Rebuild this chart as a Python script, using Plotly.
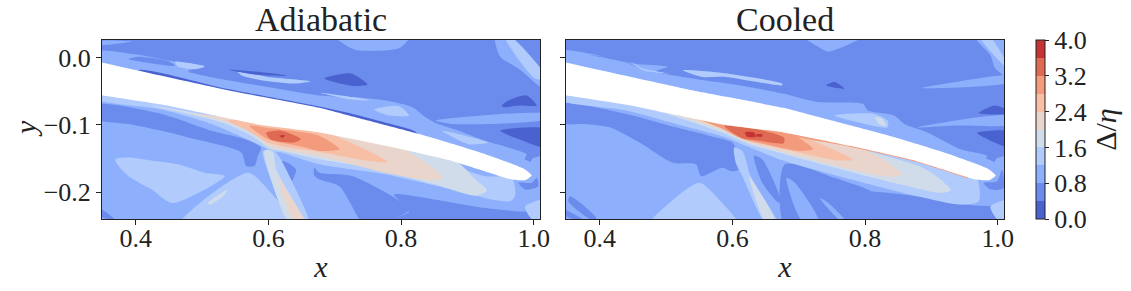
import plotly.graph_objects as go

panel_titles = ["Adiabatic", "Cooled"]
x_ticks = [0.4, 0.6, 0.8, 1.0]
y_ticks = [0.0, -0.1, -0.2]
y_tick_labels = ["0.0", "\u22120.1", "\u22120.2"]
bar_ticks = [0.0, 0.8, 1.6, 2.4, 3.2, 4.0]
band_colors = ["#4a62cf", "#6b8cec", "#8eb0fc", "#b0cbfc", "#d1dcea",
               "#e9d5cb", "#f6bfa6", "#f39b7c", "#df6a53", "#c53334"]
background_band = 1

airfoil = [(.33, -.0035), (.35, -.0075), (.439, -.027), (.539, -.0485), (.6765, -.0745), (.727, -.0875),
           (.777, -.1005), (.827, -.1135), (.877, -.128), (.927, -.1435), (.965, -.157), (.987, -.166), (.997, -.175),
           (.987, -.182), (.967, -.181), (.927, -.169), (.877, -.1535), (.777, -.131), (.677, -.111), (.589, -.1),
           (.539, -.09), (.439, -.0695), (.35, -.056), (.33, -.053)]

base2 = [(.34, -.05), (1.02, -.17), (1.02, -.25), (.34, -.25)]
tail2 = [(.997, -.151), (1.02, -.146), (1.02, -.18), (1.0, -.181)]

# Adiabatic, regions of constant band
a_wedge1 = [(.34, -.07), (.439, -.0835), (.514, -.1085), (.564, -.121), (.589, -.1335), (.584, -.146), (.579, -.161),
            (.5665, -.161), (.559, -.141), (.489, -.121), (.439, -.1085), (.389, -.0985), (.34, -.091)]
a_low1 = [(.669, -.1635), (.677, -.171), (.727, -.176), (.812, -.226), (.757, -.25), (.7445, -.25), (.707, -.191),
          (.677, -.181), (.669, -.175)]
a_bot1 = [(.7895, -.2035), (.852, -.211), (.927, -.2235), (.977, -.2285), (1.02, -.231), (1.02, -.25), (.757, -.25),
          (.812, -.2285)]
a_stemwedge1 = [(.6215, -.1535), (.6415, -.166), (.6315, -.1885), (.6215, -.1735)]
a_corner1 = [(.34, -.221), (.369, -.241), (.359, -.241), (.34, -.231)]
a_tail1 = [(.977, -.186), (.997, -.186), (1.0045, -.1785), (1.007, -.191), (.987, -.196)]
a_corner3 = [(.987, -.221), (1.02, -.211), (1.02, -.25), (.997, -.24)]
a_tri3 = [(.464, -.25), (.569, -.171), (.604, -.201), (.64, -.25)]
a_blob3 = [(.369, -.151), (.394, -.1485), (.429, -.1535), (.464, -.1585), (.504, -.171), (.534, -.176), (.494, -.201),
           (.454, -.216), (.424, -.196), (.389, -.176), (.374, -.161)]
a_tri4 = [(.509, -.216), (.539, -.196), (.5315, -.206), (.5115, -.2185)]
a_stem3 = [(.5915, -.1385), (.609, -.1385), (.639, -.191), (.662, -.25), (.634, -.25), (.604, -.181)]
a_stem4 = [(.594, -.1385), (.6065, -.1385), (.6115, -.166), (.656, -.25), (.634, -.25), (.599, -.166)]
a_stem5 = [(.6115, -.171), (.6215, -.1885), (.658, -.25), (.642, -.25)]
a_env3 = [(.34, -.054), (.439, -.0685), (.539, -.0885), (.677, -.108), (.827, -.1435), (.927, -.176), (.967, -.178),
          (.972, -.205), (.965, -.213), (.942, -.212), (.877, -.196), (.777, -.1735), (.677, -.1585), (.619, -.141),
          (.604, -.1385), (.584, -.1285), (.514, -.0985), (.439, -.077), (.34, -.062)]
a_env4 = [(.424, -.071), (.514, -.086), (.677, -.108), (.882, -.1535), (.912, -.181), (.9295, -.197), (.912, -.205),
          (.852, -.1885), (.752, -.1635), (.677, -.151), (.619, -.1385), (.604, -.136), (.574, -.116), (.529, -.096)]
a_env5 = [(.489, -.0835), (.677, -.108), (.802, -.135), (.863, -.1785), (.842, -.182), (.777, -.171), (.677, -.146),
          (.624, -.137), (.604, -.1335), (.574, -.111), (.539, -.096), (.499, -.086)]
a_env6 = [(.539, -.0935), (.677, -.108), (.7795, -.155), (.752, -.1535), (.677, -.14), (.624, -.132), (.599, -.126),
          (.569, -.1085)]
a_env7 = [(.5715, -.101), (.604, -.105), (.6765, -.116), (.707, -.136), (.677, -.1385), (.649, -.132), (.599, -.121)]
a_env8 = [(.5965, -.112), (.619, -.1085), (.649, -.121), (.639, -.126), (.604, -.122)]
a_env9 = [(.6165, -.116), (.625, -.115), (.6215, -.119)]
a_up2 = [(.34, .009), (.399, .005), (.459, -.006), (.504, -.012), (.479, -.02), (.539, -.0335), (.599, -.0435),
         (.6765, -.056), (.727, -.0585), (.777, -.0635), (.817, -.0735), (.837, -.0885), (.852, -.097), (.887, -.1085),
         (.927, -.1235), (.9895, -.1435), (.987, -.1485), (.98, -.17), (.8, -.12), (.5, -.06), (.34, -.02)]
a_up1 = [(.404, .0015), (.449, -.005), (.459, -.012), (.424, -.0085), (.389, -.002)]
a_up3 = [(.459, -.006), (.504, -.0135), (.489, -.017), (.464, -.0135)]
a_corner2 = [(.34, .024), (.394, .024), (.34, .019)]
a_streak3 = [(.554, -.021), (.599, -.0285), (.664, -.035), (.639, -.0385), (.589, -.0335), (.559, -.026)]
a_streak0 = [(.539, -.0175), (.609, -.0235), (.629, -.027), (.579, -.025)]
a_top2 = [(.702, .03), (.812, .03), (.797, .014), (.732, .0115), (.712, .0215)]
a_topr2 = [(.942, .03), (.962, .03), (1.02, -.04), (1.02, -.05), (.977, -.016), (.9495, .0015)]
a_topr3 = [(.957, .03), (.967, .03), (1.02, -.031), (1.002, -.031)]
a_spot0 = [(.6845, -.031), (.7245, -.0235), (.7495, -.04), (.727, -.042)]
a_right0a = [(.952, -.071), (.962, -.0635), (.9895, -.056), (1.0045, -.071), (.977, -.071), (.9545, -.0735)]
a_right0b = [(.9495, -.1085), (1.02, -.106), (1.02, -.1335), (.977, -.121)]
a_right2 = [(.852, -.0935), (1.02, -.0835), (1.02, -.091), (.877, -.0985)]
a_lens3 = [(.862, -.1085), (.932, -.126), (.902, -.1285)]
a_patch3 = [(.7595, -.077), (.797, -.072), (.812, -.086), (.782, -.086)]
a_thin3 = [(.677, -.052), (.727, -.0585), (.752, -.0635), (.727, -.0625)]
a_patch4 = [(.8, -.0785), (.811, -.086), (.8045, -.082)]
a_up0 = [(.404, -.0185), (.539, -.0465), (.6765, -.0725), (.727, -.0835), (.777, -.0965), (.822, -.11), (.827, -.12),
         (.677, -.08), (.404, -.03)]

# Cooled, regions of constant band
c_wedge1 = [(.34, -.0685), (.44, -.0835), (.515, -.1035), (.565, -.116), (.6, -.126), (.605, -.136), (.61, -.166),
            (.5975, -.1685), (.585, -.1635), (.5525, -.176), (.545, -.1585), (.51, -.156), (.46, -.126), (.415, -.1035),
            (.3775, -.0985), (.34, -.097)]
c_stripe1a = [(.355, -.206), (.395, -.2385), (.3875, -.241), (.3525, -.2135)]
c_stripe1b = [(.34, -.2235), (.375, -.241), (.365, -.241), (.34, -.231)]
c_hill3 = [(.4725, -.25), (.505, -.216), (.55, -.186), (.58, -.211), (.61, -.25)]
c_wedge2 = [(.6325, -.146), (.645, -.151), (.6725, -.211), (.67, -.216), (.645, -.186)]
c_low1 = [(.679, -.1585), (.754, -.1785), (.809, -.1985), (.734, -.1935), (.789, -.25), (.679, -.25)]
c_bot1 = [(.734, -.1935), (.809, -.1985), (.879, -.206), (.954, -.2185), (1.02, -.226), (1.02, -.25), (.769, -.25)]
c_finger2a = [(.6815, -.1785), (.694, -.186), (.729, -.241), (.704, -.241)]
c_finger2b = [(.7315, -.2085), (.7415, -.2135), (.769, -.241), (.7615, -.241)]
c_tail1 = [(.979, -.186), (.999, -.1835), (1.0065, -.166), (1.009, -.1935), (.989, -.196)]
c_corner3 = [(.989, -.221), (1.02, -.211), (1.02, -.25), (.999, -.24)]
c_stem3 = [(.6025, -.1335), (.615, -.1385), (.6275, -.176), (.67, -.25), (.6525, -.25), (.615, -.176), (.605, -.156)]
c_stem4 = [(.625, -.176), (.6325, -.186), (.6675, -.25), (.6525, -.25)]
c_env3 = [(.34, -.054), (.44, -.0685), (.54, -.0885), (.679, -.108), (.829, -.1385), (.949, -.175), (.969, -.18),
          (.9715, -.2135), (.944, -.2185), (.879, -.206), (.779, -.181), (.679, -.1535), (.62, -.131), (.59, -.1185),
          (.515, -.0985), (.44, -.0785), (.34, -.0635)]
c_env4 = [(.4, -.0635), (.515, -.081), (.679, -.108), (.8865, -.1635), (.914, -.181), (.929, -.197), (.914, -.201),
          (.854, -.1885), (.754, -.1635), (.679, -.1435), (.625, -.1285), (.59, -.1135), (.54, -.096), (.465, -.0735)]
c_env5 = [(.435, -.0685), (.679, -.108), (.804, -.1385), (.8565, -.1735), (.839, -.177), (.779, -.166), (.679, -.141),
          (.625, -.126), (.58, -.106), (.51, -.0835)]
c_env6 = [(.51, -.0835), (.679, -.108), (.7815, -.152), (.754, -.152), (.679, -.136), (.625, -.1235), (.58, -.1035),
          (.545, -.091)]
c_env7 = [(.55, -.091), (.679, -.108), (.7215, -.136), (.699, -.1385), (.679, -.135), (.65, -.1285), (.615, -.121),
          (.58, -.1035)]
c_env8 = [(.5875, -.101), (.63, -.105), (.6775, -.1185), (.6775, -.127), (.64, -.1235), (.6125, -.1185)]
c_env9a = [(.619, -.111), (.6325, -.111), (.635, -.1175), (.6225, -.1175)]
c_env9b = [(.636, -.114), (.645, -.114), (.645, -.117), (.636, -.117)]
c_edge7 = [(.679, -.1095), (.777, -.1295), (.877, -.152), (.927, -.1675), (.955, -.1765), (.955, -.1785),
           (.927, -.1702), (.877, -.1547), (.777, -.1322), (.679, -.1125)]
c_up2 = [(.34, .01), (.39, .005), (.45, -.0085), (.5025, -.0135), (.485, -.02), (.54, -.031), (.61, -.041),
         (.6775, -.0535), (.729, -.066), (.7965, -.0685), (.804, -.0785), (.844, -.086), (.859, -.0985), (.894, -.111),
         (.944, -.136), (.984, -.146), (.979, -.1535), (.98, -.17), (.8, -.12), (.5, -.06), (.34, -.02)]
c_streak3 = [(.525, -.0185), (.58, -.022), (.675, -.0385), (.675, -.041), (.59, -.0285), (.555, -.0285)]
c_up1 = [(.385, .004), (.425, -.001), (.455, -.0135), (.435, -.006)]
c_up3 = [(.4475, -.006), (.465, -.016), (.505, -.0235), (.465, -.0185)]
c_top2 = [(.709, .03), (.794, .03), (.744, .009), (.729, .0165)]
c_topr2 = [(.9665, .03), (1.02, .03), (1.02, -.031), (.9965, -.016), (.989, .004)]
c_topr3 = [(.974, .03), (.989, .03), (1.02, -.021), (.9915, .0065)]
c_streak2 = [(.8865, -.045), (.999, -.027), (1.02, -.026), (1.02, -.036)]
c_spot0 = [(.7415, -.041), (.754, -.036), (.769, -.046), (.749, -.0435)]
c_right0a = [(.9715, -.082), (.9965, -.071), (1.02, -.081), (1.02, -.0835)]
c_right0b = [(.969, -.112), (1.02, -.11), (1.02, -.1335)]
c_right2 = [(.879, -.1035), (1.02, -.086), (1.02, -.0985), (.929, -.101)]
c_patch3 = [(.754, -.086), (.814, -.0835), (.834, -.0935), (.834, -.1035), (.789, -.096)]
c_patch4 = [(.815, -.0885), (.8265, -.091), (.8315, -.102), (.8215, -.0985)]

adiabatic_regions = [
    (2, base2), (1, a_wedge1), (1, a_low1), (1, a_bot1), (1, a_stemwedge1), (1, a_corner1), (2, tail2), (1, a_tail1),
    (3, a_corner3), (3, a_tri3), (3, a_blob3), (4, a_tri4), (3, a_stem3), (4, a_stem4), (5, a_stem5), (3, a_env3),
    (4, a_env4), (5, a_env5), (6, a_env6), (7, a_env7), (8, a_env8), (9, a_env9), (2, a_up2), (1, a_up1), (3, a_up3),
    (2, a_corner2), (3, a_streak3), (0, a_streak0), (2, a_top2), (2, a_topr2), (3, a_topr3), (0, a_spot0),
    (0, a_right0a), (0, a_right0b), (2, a_right2), (3, a_lens3), (3, a_patch3), (3, a_thin3), (4, a_patch4), (0, a_up0),
]
cooled_regions = [
    (2, base2), (1, c_wedge1), (1, c_stripe1a), (1, c_stripe1b), (1, c_wedge2), (1, c_low1), (1, c_bot1),
    (2, c_finger2a), (2, c_finger2b), (2, tail2), (1, c_tail1), (3, c_corner3), (3, c_hill3), (3, c_stem3), (4, c_stem4),
    (3, c_env3), (4, c_env4), (5, c_env5), (6, c_env6), (7, c_env7), (8, c_env8), (9, c_env9a), (9, c_env9b),
    (7, c_edge7), (2, c_up2), (3, c_streak3), (1, c_up1), (3, c_up3), (2, c_top2), (2, c_topr2), (3, c_topr3),
    (2, c_streak2), (0, c_spot0), (0, c_right0a), (0, c_right0b), (2, c_right2), (3, c_patch3), (4, c_patch4),
]

W, H = 1131, 291
FONT = "Liberation Serif"
INK = "#222222"
fig = go.Figure()


def add_region(points, color, xa, ya, smoothing=0.7):
    fig.add_trace(go.Scatter(x=[p[0] for p in points] + [points[0][0]], y=[p[1] for p in points] + [points[0][1]],
                             mode="lines", fill="toself", fillcolor=color,
                             line=dict(width=0, color=color, shape="spline", smoothing=smoothing),
                             hoverinfo="skip", showlegend=False, xaxis=xa, yaxis=ya))


for xa, ya, regions in (("x", "y", adiabatic_regions), ("x2", "y2", cooled_regions)):
    for band, points in regions:
        add_region(points, band_colors[band], xa, ya)
    add_region(airfoil, "#ffffff", xa, ya, smoothing=0.5)

n = len(band_colors)
scale = []
for i, c in enumerate(band_colors):
    scale += [[i / n, c], [(i + 1) / n, c]]
fig.add_trace(go.Scatter(
    x=[None], y=[None], mode="markers", showlegend=False, hoverinfo="skip",
    marker=dict(color=[0], cmin=0, cmax=4, colorscale=scale, showscale=True,
                colorbar=dict(thicknessmode="pixels", thickness=9, lenmode="pixels", len=179,
                              x=1036 / W, xanchor="left", xpad=0, y=1 - 40 / H, yanchor="top", ypad=0,
                              tickmode="array", tickvals=bar_ticks, ticktext=[f"{v:.1f}" for v in bar_ticks],
                              ticks="outside", ticklen=4, tickwidth=1, tickcolor=INK,
                              outlinewidth=1, outlinecolor=INK,
                              tickfont=dict(family=FONT, size=26, color=INK),
                              title=dict(text="\u0394/<i>\u03b7</i>", side="right",
                                         font=dict(family=FONT, size=30, color=INK))))))

axis_common = dict(showgrid=False, zeroline=False, showline=True, linecolor=INK, linewidth=1, mirror=True,
                   ticks="outside", ticklen=5, tickwidth=1, tickcolor=INK,
                   tickfont=dict(family=FONT, size=26, color=INK))
xrange_ = [0.349, 1.0095]
yrange_ = [-0.2397, 0.0263]
ydom = [1 - 219 / H, 1 - 40 / H]
for suffix, left, right in (("", 102, 540), ("2", 566, 1004)):
    fig.update_layout({
        f"xaxis{suffix}": dict(axis_common, domain=[left / W, right / W], range=xrange_, tickmode="array",
                               tickvals=x_ticks, ticktext=[f"{v:.1f}" for v in x_ticks],
                               anchor=f"y{suffix}", ticklabelstandoff=-9,
                               title=dict(text="<i>x</i>", standoff=3, font=dict(family=FONT, size=30, color=INK))),
        f"yaxis{suffix}": dict(axis_common, domain=ydom, range=yrange_, tickmode="array", tickvals=y_ticks,
                               ticktext=y_tick_labels if suffix == "" else ["", "", ""],
                               anchor=f"x{suffix}"),
    })

annotations = []
for title, left, right in ((panel_titles[0], 102, 540), (panel_titles[1], 566, 1004)):
    annotations.append(dict(text=title, xref="paper", yref="paper", x=(left + right) / 2 / W, y=1 - 40 / H,
                            xanchor="center", yanchor="bottom", showarrow=False,
                            font=dict(family=FONT, size=34, color=INK)))
annotations.append(dict(text="<i>y</i>", xref="paper", yref="paper", x=25 / W, y=1 - 129 / H, textangle=-90,
                        xanchor="center", yanchor="middle", showarrow=False,
                        font=dict(family=FONT, size=30, color=INK)))

fig.update_layout(width=W, height=H, margin=dict(l=0, r=0, t=0, b=0, autoexpand=False),
                  paper_bgcolor="white", plot_bgcolor=band_colors[background_band],
                  showlegend=False, annotations=annotations)
fig.write_html("out.html", config={"displayModeBar": False},
               post_script="document.body.style.margin='0';")
